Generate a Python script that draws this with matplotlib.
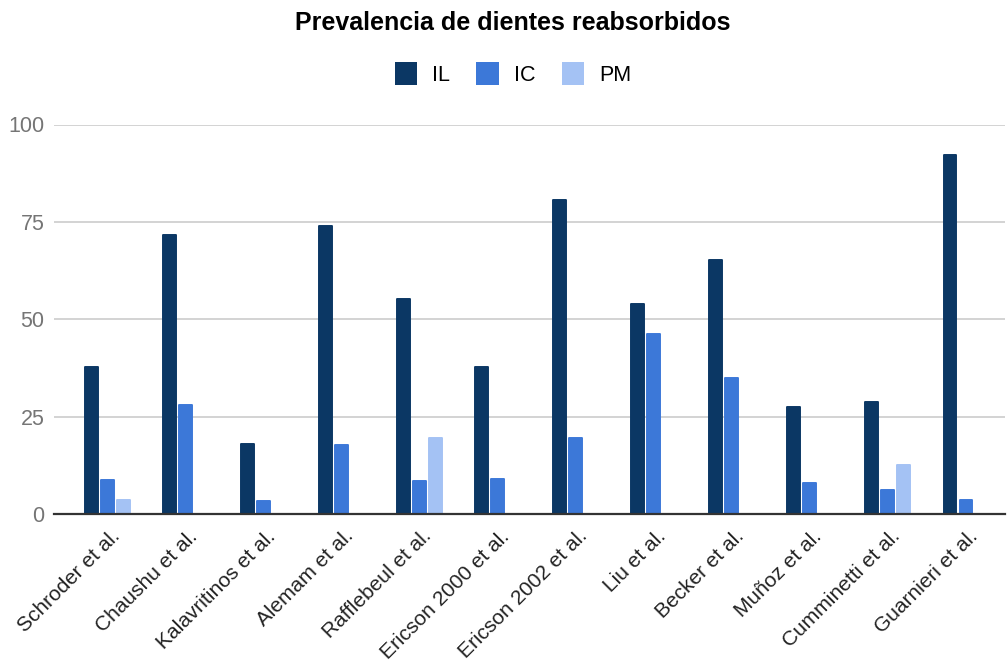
import matplotlib
matplotlib.use("Agg")
import matplotlib.pyplot as plt
import numpy as np
from matplotlib.patches import Patch

studies = ["Schroder et al.", "Chaushu et al.", "Kalavritinos et al.", "Alemam et al.",
           "Rafflebeul et al.", "Ericson 2000 et al.", "Ericson 2002 et al.", "Liu et al.",
           "Becker et al.", "Muñoz et al.", "Cumminetti et al.", "Guarnieri et al."]
il = [37.7, 71.6, 18.1, 73.9, 55.3, 37.7, 80.5, 54.0, 65.1, 27.5, 28.8, 92.1]
ic = [8.8, 27.9, 3.3, 17.7, 8.4, 8.9, 19.4, 46.1, 34.9, 7.9, 6.1, 3.7]
pm = [3.7, 0, 0, 0, 19.4, 0, 0, 0, 0, 0, 12.6, 0]
series = ["IL", "IC", "PM"]
colors = ["#0b3764", "#3c78d8", "#a4c2f4"]

plt.rcParams['font.family'] = ['Liberation Sans', 'DejaVu Sans']

fig = plt.figure(figsize=(10.08, 6.64), dpi=100)
ax = fig.add_axes([0.0536, 0.2259, 0.9434, 0.5866])

x = np.arange(len(studies))
step = 0.205
w = 0.165
for k, vals in enumerate([il, ic, pm]):
    bars = ax.bar(x + (k - 1) * step, vals, width=w, color=colors[k],
                  edgecolor=colors[k], linewidth=1.4, zorder=3)
    for b in bars:
        b.set_joinstyle("round")
        if b.get_height() == 0:
            b.set_visible(False)

ax.set_xlim(-0.686, 11.5)
ax.set_ylim(0, 100)
ax.set_yticks([0, 25, 50, 75, 100])
ax.yaxis.grid(True, color="#cccccc", linewidth=1.2, zorder=0)
for s in ["top", "right", "left"]:
    ax.spines[s].set_visible(False)
ax.spines["bottom"].set_color("#333333")
ax.spines["bottom"].set_linewidth(1.6)
ax.spines["bottom"].set_zorder(4)
ax.tick_params(axis="y", length=0, labelsize=15.5, labelcolor="#757575", pad=7)
ax.tick_params(axis="x", length=0, pad=9)
ax.set_xticks(x + 0.03)
ax.set_xticklabels(studies, rotation=45, ha="right", rotation_mode="anchor",
                   fontsize=15, color="#222222")

fig.text(0.509, 0.965, "Prevalencia de dientes reabsorbidos", ha="center", va="center",
         fontsize=18, fontweight="bold", color="#000000")

handles = [Patch(facecolor=c, edgecolor="none") for c in colors]
fig.legend(handles, series, loc="center", bbox_to_anchor=(0.509, 0.8886), ncol=3,
           frameon=False, fontsize=15.5, handlelength=1.06, handleheight=1.26,
           handletextpad=0.7, columnspacing=1.2)

fig.savefig("out.png", dpi=100)
